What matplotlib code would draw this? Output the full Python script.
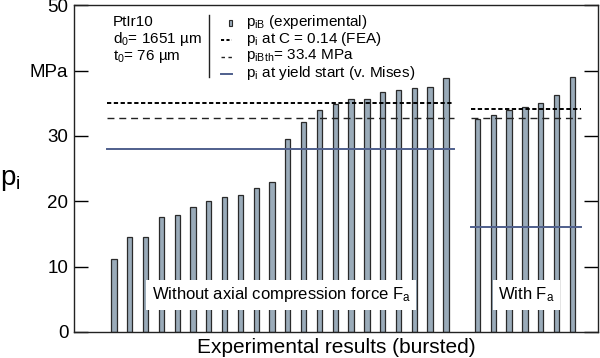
import matplotlib
matplotlib.use("Agg")
import matplotlib.pyplot as plt
import numpy as np

plt.rcParams['font.family'] = ['Liberation Sans', 'DejaVu Sans']
plt.rcParams['mathtext.fontset'] = 'custom'
plt.rcParams['mathtext.rm'] = 'Liberation Sans'
plt.rcParams['mathtext.it'] = 'Liberation Sans:italic'

# data
without_fa = [11.1, 14.5, 14.6, 17.6, 17.9, 19.1, 20.0, 20.6, 20.9, 22.1, 22.9,
              29.5, 32.1, 34.0, 34.9, 35.6, 35.7, 36.8, 37.0, 37.3, 37.5, 38.9]
with_fa = [32.6, 33.2, 34.0, 34.4, 35.0, 36.3, 39.0]
pi_fea = [35.1, 34.1]          # p_i at C = 0.14 (FEA): without / with Fa
pi_bth = [32.8, 32.8]          # p_iBth
pi_yield = [28.0, 16.0]        # p_i at yield start (v. Mises)
yticks = [0, 10, 20, 30, 40, 50]
yticklabels = ['0', '10', '20', '30', 'MPa', '50']

x_left = np.arange(len(without_fa))
x_right = np.arange(len(with_fa)) + len(without_fa) + 1

fig = plt.figure(figsize=(6.0, 3.58), dpi=100)
ax = fig.add_axes([74/600, 26/358, 524/600, (332-5.3)/358])

bar_kw = dict(width=0.34, color='#9aabb9', edgecolor='#2a2a2a', linewidth=0.9, zorder=2)
ax.bar(x_left, without_fa, **bar_kw)
ax.bar(x_right, with_fa, **bar_kw)

spans = [(-0.44, 21.5), (22.6, 29.56)]
for i, (a, b) in enumerate(spans):
    ax.plot([a, b], [pi_fea[i]]*2, color='black', lw=1.4, ls=(0, (2.2, 1.3)), zorder=3)
    ax.plot([a, b], [pi_bth[i]]*2, color='#222222', lw=1.0, ls=(0, (5, 3.5)), zorder=3)
    ax.plot([a, b], [pi_yield[i]]*2, color='#4f5f8c', lw=1.4, zorder=3)

ax.set_xlim(-2.53, 30.63)
ax.set_ylim(0, 50)
ax.set_yticks(yticks)
ax.set_yticklabels(yticklabels, fontsize=13.5)
ax.set_xticks([])
ax.tick_params(axis='y', direction='in', length=10, width=1.0, right=True, pad=4)
for s in ax.spines.values():
    s.set_linewidth(1.0)
    s.set_color('#222222')

ax.set_xlabel('Experimental results (bursted)', fontsize=15, labelpad=4)
fig.text(10/600, 1 - 180/358, r'$\mathregular{p_i}$', fontsize=20, ha='center', va='center')

# group labels with white boxes
ax.text(10.6, 5.7, r'Without axial compression force $\mathregular{F_a}$', fontsize=12,
        ha='center', va='center', zorder=4,
        bbox=dict(facecolor='white', edgecolor='none', pad=4))
ax.text(26.1, 5.7, r'With $\mathregular{F_a}$', fontsize=12,
        ha='center', va='center', zorder=4,
        bbox=dict(facecolor='white', edgecolor='none', pad=4))

tr = fig.transFigure
def P(x, y):
    return x/600, 1 - y/358

info = ['PtIr10', r'$\mathregular{d_0}$= 1651 µm', r'$\mathregular{t_0}$= 76 µm']
for k, t in enumerate(info):
    fig.text(*P(113, 21.5 + 17.5*k), t, fontsize=11, ha='left', va='center')
fig.add_artist(plt.Line2D([209/600, 209/600], [1-15/358, 1-77/358], color='#222222', lw=1.0))

leg_texts = [r'$\mathregular{p_{iB}}$ (experimental)',
             r'$\mathregular{p_i}$ at C = 0.14 (FEA)',
             r'$\mathregular{p_{iBth}}$= 33.4 MPa',
             r'$\mathregular{p_i}$ at yield start (v. Mises)']
ys = [22, 39, 56, 73]
for t, y in zip(leg_texts, ys):
    fig.text(*P(246, y), t, fontsize=11, ha='left', va='center')
# legend samples
x0, y0 = P(230.5, 23)
fig.add_artist(plt.Rectangle((x0 - 1.8/600, y0 - 3/358), 3.6/600, 6/358, transform=tr,
                             facecolor='#9aabb9', edgecolor='#2a2a2a', lw=0.8))
fig.add_artist(plt.Line2D([221/600, 232/600], [1-40/358]*2, color='black', lw=1.4, ls=(0, (1.6, 1.2))))
fig.add_artist(plt.Line2D([221/600, 232/600], [1-57/358]*2, color='#222222', lw=1.0, ls=(0, (2.5, 2.5))))
fig.add_artist(plt.Line2D([221/600, 232/600], [1-74/358]*2, color='#4f5f8c', lw=1.4))

fig.savefig('out.png', dpi=100)
